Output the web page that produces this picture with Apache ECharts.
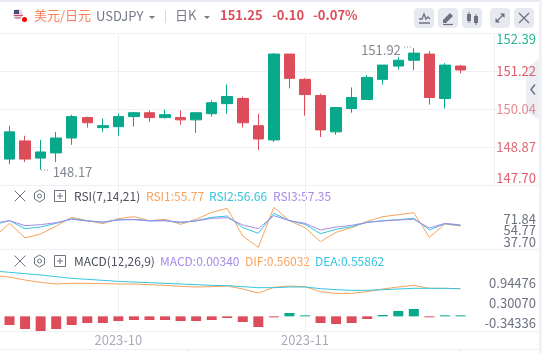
<!DOCTYPE html>
<html>
<head>
<meta charset="utf-8">
<style>
html, body { margin: 0; padding: 0; background: #fff; }
#main { width: 542px; height: 353px; }
</style>
<script src="https://cdn.jsdelivr.net/npm/echarts@6/dist/echarts.min.js"></script>
</head>
<body>
<div id="main"></div>
<script>
// first slot is an off-screen day, only its indicator lines reach into the picture
const xLabels = ['', '', '', '', '', '', '', '', '2023-10', '', '', '', '', '', '', '', '', '', '', '', '2023-11', '', '', '', '', '', '', '', '', '', '', '', '']

const opens = [null, 148.50, 149.06, 148.53, 148.69, 149.15, 149.78, 149.47, 149.50, 149.81, 149.93, 149.78, 149.78, 149.71, 149.90, 150.21, 150.37, 149.53, 149.09, 151.74, 150.96, 150.46, 149.34, 150.06, 150.34, 150.96, 151.37, 151.55, 151.74, 150.37, 151.37]
const closes = [null, 149.34, 148.50, 148.72, 149.15, 149.81, 149.62, 149.53, 149.81, 149.93, 149.78, 149.87, 149.71, 149.93, 150.24, 150.43, 149.62, 149.12, 151.74, 150.99, 150.49, 149.40, 150.09, 150.40, 151.02, 151.40, 151.55, 151.77, 150.40, 151.40, 151.25]
const lows = [null, 148.34, 148.41, 148.17, 148.41, 148.94, 149.47, 149.34, 149.22, 149.50, 149.65, 149.75, 149.56, 149.31, 149.81, 149.90, 149.47, 148.78, 149.03, 150.68, 149.84, 149.18, 149.25, 149.93, 150.34, 150.80, 151.27, 151.24, 150.18, 150.06, 151.15]
const highs = [null, 149.53, 149.22, 149.09, 149.34, 149.87, 149.81, 149.75, 149.90, 149.96, 150.00, 150.03, 150.00, 149.93, 150.31, 150.80, 150.43, 149.90, 151.77, 151.74, 150.99, 150.52, 150.09, 150.71, 151.09, 151.40, 151.65, 151.92, 151.83, 151.46, 151.40]

const rsi1 = [39.16, 59.65, 38.18, 44.04, 55.75, 68.43, 63.55, 59.16, 66.48, 69.40, 63.55, 65.50, 58.18, 65.50, 75.75, 81.60, 41.11, 24.53, 83.06, 63.55, 53.31, 32.82, 46.48, 53.31, 62.57, 69.40, 72.33, 75.26, 39.16, 58.67, 55.77]
const rsi2 = [57.70, 63.55, 51.84, 54.28, 59.65, 66.48, 63.55, 61.11, 65.01, 65.50, 63.55, 63.55, 60.62, 63.55, 68.43, 70.38, 53.31, 45.01, 74.28, 63.55, 58.18, 44.53, 50.87, 54.77, 61.11, 63.55, 65.01, 66.97, 49.89, 59.16, 56.66]
const rsi3 = [59.65, 63.55, 56.23, 57.70, 60.62, 65.50, 63.06, 61.60, 64.53, 65.01, 63.06, 63.55, 61.60, 63.06, 66.97, 67.94, 57.21, 51.84, 70.87, 63.55, 59.65, 49.89, 54.28, 56.72, 61.11, 63.06, 64.53, 65.50, 52.82, 59.65, 57.35]

const dif = [0.824, 0.797, 0.736, 0.689, 0.655, 0.669, 0.669, 0.662, 0.655, 0.655, 0.642, 0.628, 0.608, 0.595, 0.601, 0.615, 0.554, 0.473, 0.588, 0.615, 0.601, 0.500, 0.466, 0.466, 0.500, 0.554, 0.595, 0.628, 0.568, 0.568, 0.56032]
const dea = [0.919, 0.892, 0.865, 0.838, 0.804, 0.770, 0.750, 0.730, 0.709, 0.696, 0.682, 0.669, 0.655, 0.642, 0.628, 0.622, 0.601, 0.581, 0.581, 0.595, 0.595, 0.561, 0.541, 0.527, 0.527, 0.541, 0.554, 0.568, 0.568, 0.568, 0.55862]
const macd = [null, -0.176, -0.257, -0.297, -0.257, -0.176, -0.135, -0.135, -0.095, -0.074, -0.074, -0.074, -0.095, -0.095, -0.074, -0.034, -0.115, -0.216, -0.014, 0.068, 0.007, -0.135, -0.155, -0.135, -0.054, 0.027, 0.108, 0.149, -0.014, 0.007, 0.0034]

const priceTicks = [147.70, 148.87, 150.04, 151.22, 152.39]
const rsiTicks = [37.70, 54.77, 71.84]
const macdTicks = [-0.34336, 0.30070, 0.94476]

const GREEN = '#08a88b'
const RED = '#dc4c5a'
const ORANGE = '#f7a35c'
const CYAN = '#35c4de'
const PURPLE = '#a68ae8'
const LINE = '#eef0f5'
const FONT = '"Noto Sans CJK SC", "Noto Sans", sans-serif'

const priceColors = {'147.70': '#de5f6b', '148.87': '#de6a75', '150.04': '#e58a93', '151.22': '#de5f6b', '152.39': '#2db595'}

const GRID_LEFT = -13.8
const GRID_WIDTH = 513.15
const LABEL_MARGIN = 36.65

let candleData = opens.map(function (o, i) {
    return o === null ? ['-', '-', '-', '-'] : [o, closes[i], lows[i], highs[i]]
})

function text(x, y, str, color, size, weight) {
    return {
        type: 'text', x: x, y: y,
        style: {text: str, fill: color, font: (weight || 'normal') + ' ' + size + 'px ' + FONT, textVerticalAlign: 'middle'}
    }
}
function seg(x1, y1, x2, y2, color, w) {
    return {type: 'line', shape: {x1: x1, y1: y1, x2: x2, y2: y2}, style: {stroke: color, lineWidth: w || 1}}
}
function tri(x, y) {
    return {type: 'polygon', shape: {points: [[x, y], [x + 6, y], [x + 3, y + 3]]}, style: {fill: '#757a8a'}}
}
function btn(x) {
    return {type: 'rect', shape: {x: x, y: 8, width: 20, height: 20, r: 4}, style: {fill: '#e7e9f0'}}
}
function panelTools(y) {
    return [
        seg(14.5, y - 5.5, 25.5, y + 5.5, '#6d7280'),
        seg(25.5, y - 5.5, 14.5, y + 5.5, '#6d7280'),
        {type: 'polygon', shape: {points: [[39.5, y - 6], [44.5, y - 3], [44.5, y + 3], [39.5, y + 6], [34.5, y + 3], [34.5, y - 3]]}, style: {fill: 'none', stroke: '#6d7280'}},
        {type: 'circle', shape: {cx: 39.5, cy: y, r: 2}, style: {fill: 'none', stroke: '#6d7280'}},
        {type: 'rect', shape: {x: 54.5, y: y - 5.5, width: 11, height: 11}, style: {fill: 'none', stroke: '#6d7280'}},
        seg(57, y, 63, y, '#6d7280'),
        seg(60, y - 3, 60, y + 3, '#6d7280')
    ]
}

let chrome = [
    {type: 'rect', shape: {x: 0, y: 0, width: 542, height: 2}, style: {fill: '#e6e9f0'}},
    {type: 'rect', shape: {x: 539, y: 0, width: 3, height: 353}, style: {fill: '#f0f2f6'}},
    seg(0, 33.5, 539, 33.5, LINE),
    seg(0, 185.5, 539, 185.5, LINE),
    seg(0, 249.5, 539, 249.5, LINE),
    seg(0, 331.5, 539, 331.5, LINE),
    seg(494.5, 33, 494.5, 185, LINE),
    seg(0, 349.5, 539, 349.5, LINE),
    seg(188.5, 349, 188.5, 353, LINE),
    seg(460.5, 349, 460.5, 353, LINE),

    // flag
    {type: 'circle', shape: {cx: 18, cy: 14, r: 5}, style: {fill: '#e9d3da'}},
    {type: 'rect', shape: {x: 14, y: 10, width: 5, height: 4}, style: {fill: '#4a4a78'}},
    seg(14, 15.5, 23, 15.5, '#c9566f'),
    seg(14.5, 18, 21, 18, '#c9566f'),
    {type: 'circle', shape: {cx: 24.5, cy: 19.5, r: 2.5}, style: {fill: '#f00'}},

    text(34, 15.5, '美元/日元', '#f9825e', 13),
    text(96, 16, 'USDJPY', '#757a8a', 13),
    tri(149, 16),
    seg(165.5, 10, 165.5, 23, '#d5d8e0'),
    text(175, 15.5, '日K', '#757a8a', 13),
    tri(204, 16),
    text(220, 15.5, '151.25', RED, 13, 'bold'),
    text(272, 15.5, '-0.10', RED, 13, 'bold'),
    text(313, 15.5, '-0.07%', RED, 13, 'bold'),

    // toolbar
    btn(414), btn(438), btn(462), btn(490), btn(514),
    {type: 'polyline', shape: {points: [[419, 19], [422, 19], [424, 14], [426, 19], [428, 17], [430, 19]]}, style: {fill: 'none', stroke: '#6d7280', lineWidth: 1.3}},
    seg(419, 23, 430, 23, '#6d7280', 1.5),
    {type: 'polygon', shape: {points: [[443, 20], [450, 13], [453, 16], [446, 23], [443, 23]]}, style: {fill: '#6d7280'}},
    seg(443, 24.5, 453, 24.5, '#6d7280', 1.2),
    {type: 'rect', shape: {x: 467, y: 14, width: 4, height: 7}, style: {fill: '#6d7280'}},
    seg(469, 12, 469, 23, '#6d7280'),
    {type: 'rect', shape: {x: 474, y: 16, width: 4, height: 7}, style: {fill: '#6d7280'}},
    seg(476, 14, 476, 25, '#6d7280'),
    seg(496, 22, 504, 14, '#6d7280', 1.3),
    {type: 'polygon', shape: {points: [[500, 13.5], [504.5, 13.5], [504.5, 18]]}, style: {fill: '#6d7280'}},
    {type: 'polygon', shape: {points: [[495.5, 18], [495.5, 22.5], [500, 22.5]]}, style: {fill: '#6d7280'}},
    seg(519, 13, 529, 23, '#6d7280', 1.2),
    seg(529, 13, 519, 23, '#6d7280', 1.2),

    // collapse tab
    {type: 'polygon', shape: {points: [[539, 59], [526, 68], [526, 111], [539, 120]]}, style: {fill: '#eceef4'}},
    {type: 'polyline', shape: {points: [[535, 84.5], [531, 89.5], [535, 94.5]]}, style: {fill: 'none', stroke: '#6d7280', lineWidth: 1.5}},

    // price extreme leaders
    {type: 'line', shape: {x1: 41, y1: 170, x2: 50, y2: 170}, style: {stroke: '#8a8f9c', lineWidth: 1, lineDash: [1, 2]}},
    {type: 'line', shape: {x1: 404, y1: 47, x2: 413, y2: 47}, style: {stroke: '#8a8f9c', lineWidth: 1, lineDash: [1, 2]}},

    text(74, 196, 'RSI(7,14,21)', '#4b4f5c', 12),
    text(146, 196, 'RSI1:55.77', ORANGE, 12),
    text(209, 196, 'RSI2:56.66', CYAN, 12),
    text(273, 196, 'RSI3:57.35', PURPLE, 12),
    text(74, 261, 'MACD(12,26,9)', '#4b4f5c', 12),
    text(160, 261, 'MACD:0.00340', PURPLE, 12),
    text(245, 261, 'DIF:0.56032', ORANGE, 12),
    text(315, 261, 'DEA:0.55862', CYAN, 12)
].concat(panelTools(196), panelTools(261))

function xAxis(gridIndex, showLabel) {
    return {
        type: 'category',
        gridIndex: gridIndex,
        data: xLabels,
        boundaryGap: true,
        axisTick: {show: false},
        axisLine: {show: false},
        axisLabel: {show: showLabel, interval: 0, margin: 3, color: '#a9abbd', fontSize: 13, fontFamily: FONT, hideOverlap: false},
        splitLine: {
            show: true,
            alignWithLabel: true,
            interval: function (i) { return xLabels[i] !== '' },
            lineStyle: {color: LINE}
        }
    }
}

function lineSeries(name, data, color, x, y) {
    return {
        name: name, type: 'line', data: data, xAxisIndex: x, yAxisIndex: y,
        symbol: 'none', silent: true, lineStyle: {color: color, width: 1}
    }
}

let option = {
    animation: false,
    backgroundColor: '#fff',
    textStyle: {fontFamily: FONT},
    graphic: {elements: chrome},
    grid: [
        {left: GRID_LEFT, width: GRID_WIDTH, top: 33, height: 152, outerBoundsMode: 'none'},
        {left: GRID_LEFT, width: GRID_WIDTH, top: 185, height: 64, outerBoundsMode: 'none'},
        {left: GRID_LEFT, width: GRID_WIDTH, top: 249, height: 82, outerBoundsMode: 'none'}
    ],
    xAxis: [xAxis(0, false), xAxis(1, false), xAxis(2, true)],
    yAxis: [
        {
            type: 'value', gridIndex: 0, position: 'right', min: 147.70, max: 152.39, scale: true,
            axisLine: {show: false},
            axisTick: {show: false, customValues: priceTicks},
            splitLine: {show: true, lineStyle: {color: LINE, width: 1}},
            axisLabel: {
                customValues: priceTicks, align: 'right', margin: LABEL_MARGIN, fontSize: 13, fontFamily: FONT,
                verticalAlignMinLabel: 'bottom', verticalAlignMaxLabel: 'top',
                formatter: function (v) { return v.toFixed(2) },
                color: function (v) { return priceColors[Number(v).toFixed(2)] }
            }
        },
        {
            // scale of the RSI lines, no labels
            type: 'value', gridIndex: 1, position: 'right', min: 22.09, max: 115.75,
            axisLine: {show: false}, splitLine: {show: false}, axisTick: {show: false}, axisLabel: {show: false}
        },
        {
            // printed RSI ticks are packed tighter and lower than the lines
            // blank end ticks stop echarts dropping the tight labels as overlaps
            type: 'value', gridIndex: 1, position: 'right', min: 27.45, max: 121.11,
            axisLine: {show: false}, splitLine: {show: false},
            axisTick: {show: false, customValues: rsiTicks},
            axisLabel: {
                customValues: [27.5].concat(rsiTicks, [121]), align: 'right', margin: LABEL_MARGIN, fontSize: 13, fontFamily: FONT,
                color: '#6d7280',
                formatter: function (v) { return rsiTicks.indexOf(v) < 0 ? '' : v.toFixed(2) }
            }
        },
        {
            // scale of the lines and bars, no labels
            type: 'value', gridIndex: 2, position: 'right', min: -0.297, max: 1.365,
            axisLine: {show: false}, splitLine: {show: false}, axisTick: {show: false}, axisLabel: {show: false}
        },
        {
            // printed ticks sit on their own spacing in the source chart
            type: 'value', gridIndex: 2, position: 'right', min: -0.6163, max: 2.069,
            axisLine: {show: false}, splitLine: {show: false},
            axisTick: {show: false, customValues: macdTicks},
            axisLabel: {
                customValues: macdTicks, align: 'right', margin: LABEL_MARGIN, fontSize: 13, fontFamily: FONT,
                color: '#6d7280',
                formatter: function (v) { return v.toFixed(5) }
            }
        }
    ],
    series: [
        {
            type: 'candlestick', data: candleData, xAxisIndex: 0, yAxisIndex: 0, barWidth: 11, silent: true,
            itemStyle: {color: GREEN, color0: RED, borderColor: GREEN, borderColor0: RED, borderWidth: 1},
            markPoint: {
                symbol: 'circle', symbolSize: 0, silent: true,
                label: {show: true, color: '#82868f', fontSize: 13, fontFamily: FONT},
                data: [
                    {coord: [3, 148.17], value: '148.17', label: {position: 'right', distance: 12, offset: [0, 2]}},
                    {coord: [27, 151.92], value: '151.92', label: {position: 'left', distance: 13, offset: [0, 2]}}
                ]
            }
        },
        lineSeries('RSI1', rsi1, ORANGE, 1, 1),
        lineSeries('RSI2', rsi2, CYAN, 1, 1),
        lineSeries('RSI3', rsi3, PURPLE, 1, 1),
        {
            name: 'MACD', type: 'bar', data: macd, xAxisIndex: 2, yAxisIndex: 3, barWidth: 10, barMinHeight: 1, silent: true,
            itemStyle: {color: function (p) { return p.value >= 0 ? GREEN : RED }}
        },
        lineSeries('DIF', dif, ORANGE, 2, 3),
        lineSeries('DEA', dea, CYAN, 2, 3)
    ]
}

let chart = echarts.init(document.getElementById('main'))
chart.setOption(option)
</script>
</body>
</html>
